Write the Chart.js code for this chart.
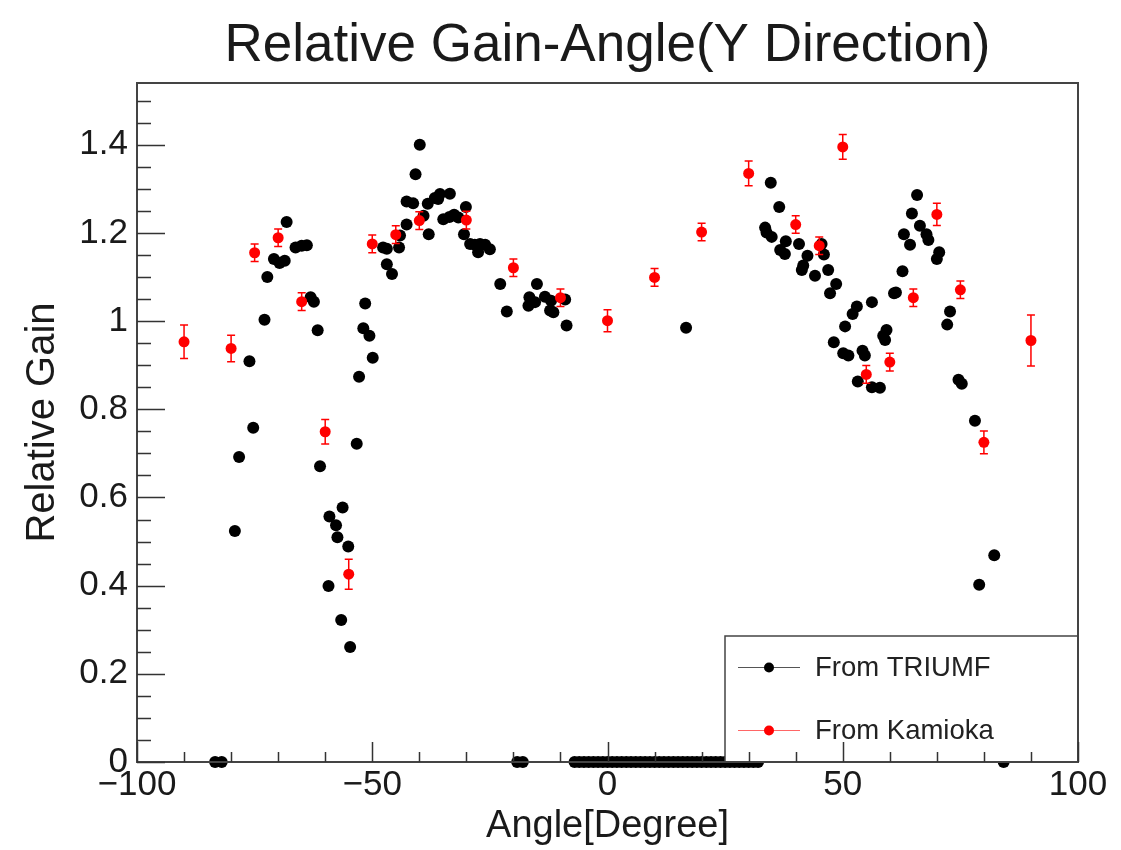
<!DOCTYPE html>
<html>
<head>
<meta charset="utf-8">
<script src="https://cdn.jsdelivr.net/npm/chart.js@4.4.1/dist/chart.umd.min.js"></script>
<style>
  html, body { margin: 0; padding: 0; background: #fff; }
  #wrap { width: 1121px; height: 850px; }
</style>
</head>
<body>
<div id="wrap"><canvas id="gainChart" width="1121" height="850"></canvas></div>
<script>
// TRIUMF scan (black), angle in degree / relative gain
const triumfX = [
  -83.4, -82.0, -79.2, -78.3, -76.1, -75.3, -72.9, -72.3, -70.9, -69.7,
  -68.6, -68.2, -66.3, -65.0, -63.9, -63.1, -62.4, -61.6, -61.1, -59.3,
  -59.1, -57.7, -57.4, -56.6, -56.3, -55.1, -54.7, -53.3, -52.8, -51.9,
  -51.5, -50.6, -49.9, -47.7, -46.9, -46.9, -45.8, -44.3, -44.1, -42.7,
  -42.7, -41.3, -40.8, -39.9, -39.1, -38.2, -38.0, -36.7, -36.0, -35.6,
  -34.9, -33.6, -33.5, -32.6, -31.7, -30.5, -30.1, -29.2, -28.2, -27.5,
  -27.1, -26.0, -25.0, -22.8, -21.4, -19.2, -18.0, -16.8, -16.6, -15.4,
  -15.0, -13.3, -12.2, -12.0, -11.5, -9.0, -8.7,
  -7, -6, -5, -4, -3, -2, -1, 0, 1, 2, 3, 4, 5, 6, 7, 8, 9, 10, 11, 12,
  13, 14, 15, 16, 16.7, 17, 18, 19, 20, 21, 22, 23, 24, 25, 26, 27, 28,
  29, 30, 31, 32,
  33.5, 33.8, 34.7, 34.9, 36.5, 36.7, 37.7, 37.9, 40.7, 41.3,
  41.6, 42.5, 44.1, 45.5, 46.0, 46.9, 47.3, 48.1, 48.6, 50.1,
  50.5, 51.2, 52.1, 53.0, 53.2, 54.2, 54.7, 56.2, 56.2, 57.9,
  58.6, 59.0, 59.3, 60.9, 61.3, 62.7, 63.0, 64.3, 64.7, 65.8,
  66.4, 67.8, 68.2, 70.0, 70.5, 72.2, 72.8, 74.6, 75.3, 78.1,
  79.0, 82.2, 84.2
];
const triumfY = [
  0, 0, 0.524, 0.692, 0.909, 0.758, 1.003, 1.100, 1.141, 1.132,
  1.137, 1.225, 1.167, 1.171, 1.172, 1.054, 1.044, 0.979, 0.671, 0.399,
  0.557, 0.537, 0.510, 0.322, 0.577, 0.489, 0.261, 0.722, 0.874, 0.984,
  1.040, 0.967, 0.917, 1.167, 1.164, 1.129, 1.107, 1.167, 1.194, 1.219,
  1.271, 1.267, 1.333, 1.400, 1.239, 1.266, 1.197, 1.279, 1.277, 1.288,
  1.231, 1.236, 1.289, 1.241, 1.235, 1.197, 1.259, 1.175, 1.173, 1.156,
  1.175, 1.173, 1.163, 1.084, 1.022, 0, 0, 1.035, 1.054, 1.043,
  1.084, 1.055, 1.024, 1.046, 1.020, 1.049, 0.990,
  0, 0, 0, 0, 0, 0, 0, 0, 0, 0, 0, 0, 0, 0, 0, 0, 0, 0, 0, 0,
  0, 0, 0, 0, 0.985, 0, 0, 0, 0, 0, 0, 0, 0, 0, 0, 0, 0,
  0, 0, 0, 0,
  1.212, 1.201, 1.314, 1.191, 1.259, 1.161, 1.152, 1.181, 1.175, 1.116,
  1.126, 1.148, 1.103, 1.175, 1.151, 1.116, 1.063, 0.952, 1.084, 0.927,
  0.988, 0.922, 1.016, 1.033, 0.863, 0.933, 0.922, 1.043, 0.850, 0.849,
  0.967, 0.957, 0.980, 1.063, 1.065, 1.113, 1.197, 1.173, 1.244, 1.286,
  1.216, 1.197, 1.184, 1.141, 1.156, 0.992, 1.022, 0.867, 0.858, 0.774,
  0.402, 0.469, 0
];

// Kamioka measurement (red) with errors
const kamiokaX = [-90, -80, -75, -70, -65, -60, -55, -50, -45, -40, -30, -20, -10,
  0, 10, 20, 30, 40, 45, 50, 55, 60, 65, 70, 75, 80, 90];
const kamiokaY = [0.953, 0.938, 1.155, 1.189, 1.044, 0.749, 0.426, 1.175, 1.196, 1.228,
  1.229, 1.121, 1.053, 1.001, 1.099, 1.202, 1.335, 1.219, 1.171, 1.395, 0.879,
  0.907, 1.053, 1.242, 1.071, 0.725, 0.956];
const kamiokaErr = [0.038, 0.03, 0.02, 0.02, 0.02, 0.028, 0.034, 0.02, 0.02, 0.02,
  0.02, 0.02, 0.02, 0.025, 0.02, 0.02, 0.028, 0.02, 0.02, 0.028, 0.02,
  0.02, 0.02, 0.025, 0.02, 0.026, 0.058];

const xTicks = [-100, -50, 0, 50, 100];
const yTicks = [0, 0.2, 0.4, 0.6, 0.8, 1, 1.2, 1.4];
const legendLabels = ['From TRIUMF', 'From Kamioka'];
const chartTitle = 'Relative Gain-Angle(Y Direction)';

const FONT = '"Liberation Sans", Arial, Helvetica, sans-serif';
const INK = '#1a1a1a';

const triumfPts = triumfX.map((x, i) => ({ x: x, y: triumfY[i] }));
const kamiokaPts = kamiokaX.map((x, i) => ({ x: x, y: kamiokaY[i] }));

// error bars, inward ticks, frame, legend box and title (ROOT look)
const rootStyle = {
    id: 'rootStyle',
    afterDatasetsDraw(chart) {
        const ctx = chart.ctx;
        const xs = chart.scales.x, ys = chart.scales.y;
        ctx.save();
        ctx.strokeStyle = '#ff0000';
        ctx.lineWidth = 1.5;
        kamiokaX.forEach((x, i) => {
            const px = xs.getPixelForValue(x);
            const top = ys.getPixelForValue(kamiokaY[i] + kamiokaErr[i]);
            const bot = ys.getPixelForValue(kamiokaY[i] - kamiokaErr[i]);
            ctx.beginPath();
            ctx.moveTo(px, top); ctx.lineTo(px, bot);
            ctx.moveTo(px - 4, top); ctx.lineTo(px + 4, top);
            ctx.moveTo(px - 4, bot); ctx.lineTo(px + 4, bot);
            ctx.stroke();
        });
        ctx.restore();
    },
    afterDraw(chart) {
        const ctx = chart.ctx;
        const a = chart.chartArea;
        const xs = chart.scales.x, ys = chart.scales.y;
        ctx.save();

        // title, centred over the frame
        ctx.fillStyle = INK;
        ctx.font = '53px ' + FONT;
        ctx.textAlign = 'center';
        ctx.textBaseline = 'alphabetic';
        ctx.fillText(chartTitle, (a.left + a.right) / 2, 61);

        // legend box
        const lx = 725, ly = 636, lw = a.right - 725, lh = a.bottom - 636;
        ctx.fillStyle = '#fff';
        ctx.fillRect(lx, ly, lw, lh);
        ctx.strokeStyle = '#444';
        ctx.lineWidth = 1.5;
        ctx.strokeRect(lx, ly, lw, lh);
        const rows = [ly + lh * 0.25, ly + lh * 0.75];
        const cols = ['#000', '#ff0000'];
        const lineCols = ['#555', '#ff6666'];
        ctx.font = '27.5px ' + FONT;
        ctx.textBaseline = 'middle';
        ctx.textAlign = 'left';
        rows.forEach((ry, i) => {
            ctx.strokeStyle = lineCols[i];
            ctx.lineWidth = 1.2;
            ctx.beginPath();
            ctx.moveTo(738, ry); ctx.lineTo(800, ry);
            ctx.stroke();
            ctx.fillStyle = cols[i];
            ctx.beginPath();
            ctx.arc(769, ry, 5, 0, Math.PI * 2);
            ctx.fill();
            ctx.fillStyle = '#222';
            ctx.fillText(legendLabels[i], 815, ry + 1);
        });

        // frame
        ctx.strokeStyle = '#444';
        ctx.lineWidth = 2;
        ctx.strokeRect(a.left, a.top, a.right - a.left, a.bottom - a.top);

        // inward ticks
        ctx.lineWidth = 1.5;
        ctx.strokeStyle = '#333';
        ctx.beginPath();
        for (let v = 0; v <= ys.max + 1e-9; v += 0.05) {
            const py = Math.round(ys.getPixelForValue(v)) + 0.5;
            const major = Math.abs(v / 0.2 - Math.round(v / 0.2)) < 1e-6;
            ctx.moveTo(a.left, py);
            ctx.lineTo(a.left + (major ? 28 : 14), py);
        }
        for (let v = xs.min; v <= xs.max + 1e-9; v += 10) {
            const px = Math.round(xs.getPixelForValue(v)) + 0.5;
            const major = v % 50 === 0;
            ctx.moveTo(px, a.bottom);
            ctx.lineTo(px, a.bottom - (major ? 20 : 10));
        }
        ctx.stroke();
        ctx.restore();
    }
};

new Chart(document.getElementById('gainChart'), {
    type: 'scatter',
    data: {
        datasets: [
            {
                label: legendLabels[1],
                data: kamiokaPts,
                backgroundColor: '#ff0000',
                borderWidth: 0,
                pointRadius: 5.5,
                pointHoverRadius: 5.5,
                clip: false,
                order: 0
            },
            {
                label: legendLabels[0],
                data: triumfPts,
                backgroundColor: '#000',
                borderWidth: 0,
                pointRadius: 6,
                pointHoverRadius: 6,
                clip: false,
                order: 1
            }
        ]
    },
    options: {
        responsive: false,
        animation: false,
        layout: { padding: { left: 0, right: 43, top: 83, bottom: 0 } },
        scales: {
            x: {
                type: 'linear',
                min: -100,
                max: 100,
                afterFit: s => { s.height = 88; },
                afterBuildTicks: s => { s.ticks = xTicks.map(v => ({ value: v })); },
                ticks: {
                    color: INK,
                    font: { family: FONT, size: 35 },
                    padding: 2,
                    maxRotation: 0,
                    callback: v => v < 0 ? '\u2212' + Math.abs(v) : String(v)
                },
                grid: { display: false, drawTicks: false },
                border: { display: false },
                title: {
                    display: true,
                    text: 'Angle[Degree]',
                    color: INK,
                    font: { family: FONT, size: 38, lineHeight: 1.2 },
                    padding: { top: 0, bottom: 1 }
                }
            },
            y: {
                type: 'linear',
                min: 0,
                max: 1.54,
                afterFit: s => { s.width = 137; },
                afterBuildTicks: s => { s.ticks = yTicks.map(v => ({ value: v })); },
                ticks: {
                    color: INK,
                    font: { family: FONT, size: 35 },
                    padding: 9,
                    callback: v => String(+v.toFixed(2))
                },
                grid: { display: false, drawTicks: false },
                border: { display: false },
                title: {
                    display: true,
                    text: 'Relative Gain',
                    color: INK,
                    font: { family: FONT, size: 40, lineHeight: 1.2 },
                    padding: { top: 19, bottom: 0 }
                }
            }
        },
        plugins: {
            legend: { display: false },
            tooltip: { enabled: false },
            title: { display: false }
        }
    },
    plugins: [rootStyle]
});
</script>
</body>
</html>
